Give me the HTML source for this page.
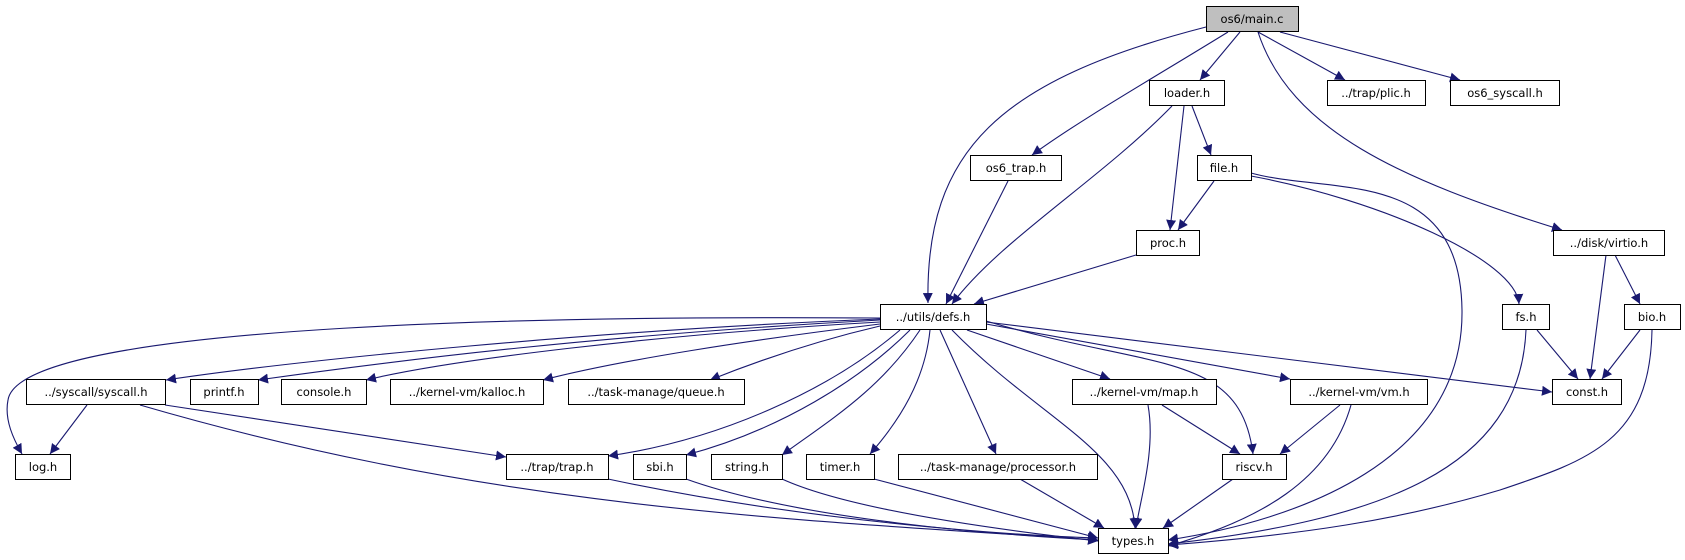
<!DOCTYPE html>
<html><head><meta charset="utf-8"><style>
html,body{margin:0;padding:0;background:#fff;}
svg{display:block;}
text{font-family:"DejaVu Sans","Liberation Sans",sans-serif;font-size:11.5px;fill:#000;}
</style></head><body>
<svg width="1685" height="560" viewBox="0 0 1685 560" xmlns="http://www.w3.org/2000/svg">
<defs>
<marker id="a" viewBox="0 0 10 10" refX="10" refY="5" markerWidth="10" markerHeight="10" markerUnits="userSpaceOnUse" orient="auto">
<path d="M0,0 L10,5 L0,10 z" fill="#191970"/>
</marker>
</defs>
<g fill="none" stroke="#191970" stroke-width="1.1" marker-end="url(#a)">
<path d="M1206,27 C1000,80 925,150 928,303"/>
<path d="M1228,32 C1150,80 1080,120 1032,155"/>
<path d="M1240,32 L1200,80"/>
<path d="M1258,32 L1345,80"/>
<path d="M1280,32 L1460,80"/>
<path d="M1258,32 C1290,130 1400,180 1562,230"/>
<path d="M1172,106 C1100,180 1000,240 952,304"/>
<path d="M1184,106 L1170,230"/>
<path d="M1192,106 L1211,155"/>
<path d="M1008,181 L946,304"/>
<path d="M1214,181 L1178,230"/>
<path d="M1251,173 C1330,195 1460,165 1462,310 C1464,460 1300,520 1168,540"/>
<path d="M1251,176 C1380,200 1516,260 1519,304"/>
<path d="M1136,255 L974,304"/>
<path d="M1606,255 L1590,379"/>
<path d="M1615,255 L1640,304"/>
<path d="M1537,330 L1578,379"/>
<path d="M1640,330 L1602,379"/>
<path d="M1526,330 C1520,470 1380,520 1168,544"/>
<path d="M1652,330 C1650,440 1590,460 1500,490 C1400,520 1300,535 1168,545"/>
<path d="M880,318 C600,316 20,320 8,400 C4,420 14,440 22,454"/>
<path d="M880,319 C600,330 300,360 166,380"/>
<path d="M880,320 C600,335 400,360 258,380"/>
<path d="M880,322 C650,335 450,360 366,380"/>
<path d="M880,324 C750,340 620,360 543,380"/>
<path d="M880,326 C820,340 760,360 710,380"/>
<path d="M900,330 C830,390 720,440 608,456"/>
<path d="M910,330 C860,380 780,430 686,455"/>
<path d="M920,330 C880,390 830,420 782,455"/>
<path d="M930,330 C925,380 900,420 870,454"/>
<path d="M940,330 L996,454"/>
<path d="M952,330 C1040,420 1130,450 1135,528"/>
<path d="M967,330 L1110,379"/>
<path d="M986,324 L1290,379"/>
<path d="M986,321 C1150,370 1240,350 1253,454"/>
<path d="M986,322 L1552,392"/>
<path d="M87,405 L50,454"/>
<path d="M165,405 L506,457"/>
<path d="M140,405 C500,510 800,520 1098,540"/>
<path d="M608,479 C800,520 1000,535 1098,538"/>
<path d="M686,479 C800,520 1000,535 1098,540"/>
<path d="M782,479 C850,510 1000,530 1098,541"/>
<path d="M874,479 L1098,538"/>
<path d="M1020,479 L1104,528"/>
<path d="M1148,405 C1156,450 1140,500 1136,528"/>
<path d="M1162,405 L1240,454"/>
<path d="M1340,405 L1280,454"/>
<path d="M1351,405 C1330,480 1260,520 1168,546"/>
<path d="M1233,479 L1163,528"/>
</g>
<g stroke="#000" stroke-width="1" fill="#fff">
<rect x="1206.5" y="6.5" width="92" height="25" fill="#bfbfbf"/>
<rect x="1149.5" y="80.5" width="75" height="25"/>
<rect x="1327.5" y="80.5" width="98" height="25"/>
<rect x="1450.5" y="80.5" width="109" height="25"/>
<rect x="970.5" y="155.5" width="91" height="25"/>
<rect x="1197.5" y="155.5" width="54" height="25"/>
<rect x="1136.5" y="230.5" width="63" height="25"/>
<rect x="1553.5" y="230.5" width="111" height="25"/>
<rect x="880.5" y="304.5" width="106" height="25"/>
<rect x="1502.5" y="304.5" width="47" height="25"/>
<rect x="1624.5" y="304.5" width="56" height="25"/>
<rect x="26.5" y="379.5" width="139" height="25"/>
<rect x="190.5" y="379.5" width="68" height="25"/>
<rect x="281.5" y="379.5" width="85" height="25"/>
<rect x="390.5" y="379.5" width="153" height="25"/>
<rect x="568.5" y="379.5" width="176" height="25"/>
<rect x="1072.5" y="379.5" width="144" height="25"/>
<rect x="1290.5" y="379.5" width="137" height="25"/>
<rect x="1552.5" y="379.5" width="69" height="25"/>
<rect x="15.5" y="454.5" width="55" height="25"/>
<rect x="506.5" y="454.5" width="102" height="25"/>
<rect x="633.5" y="454.5" width="53" height="25"/>
<rect x="711.5" y="454.5" width="71" height="25"/>
<rect x="806.5" y="454.5" width="68" height="25"/>
<rect x="898.5" y="454.5" width="199" height="25"/>
<rect x="1222.5" y="454.5" width="64" height="25"/>
<rect x="1098.5" y="528.5" width="70" height="25"/>
</g>
<g text-anchor="middle">
<text x="1252" y="23">os6/main.c</text>
<text x="1187" y="97">loader.h</text>
<text x="1376" y="97">../trap/plic.h</text>
<text x="1505" y="97">os6_syscall.h</text>
<text x="1016" y="172">os6_trap.h</text>
<text x="1224" y="172">file.h</text>
<text x="1168" y="247">proc.h</text>
<text x="1609" y="247">../disk/virtio.h</text>
<text x="933" y="321">../utils/defs.h</text>
<text x="1526" y="321">fs.h</text>
<text x="1652" y="321">bio.h</text>
<text x="96" y="396">../syscall/syscall.h</text>
<text x="224" y="396">printf.h</text>
<text x="324" y="396">console.h</text>
<text x="467" y="396">../kernel-vm/kalloc.h</text>
<text x="656" y="396">../task-manage/queue.h</text>
<text x="1144" y="396">../kernel-vm/map.h</text>
<text x="1359" y="396">../kernel-vm/vm.h</text>
<text x="1587" y="396">const.h</text>
<text x="43" y="471">log.h</text>
<text x="557" y="471">../trap/trap.h</text>
<text x="660" y="471">sbi.h</text>
<text x="747" y="471">string.h</text>
<text x="840" y="471">timer.h</text>
<text x="998" y="471">../task-manage/processor.h</text>
<text x="1254" y="471">riscv.h</text>
<text x="1133" y="545">types.h</text>
</g>
</svg>
</body></html>
